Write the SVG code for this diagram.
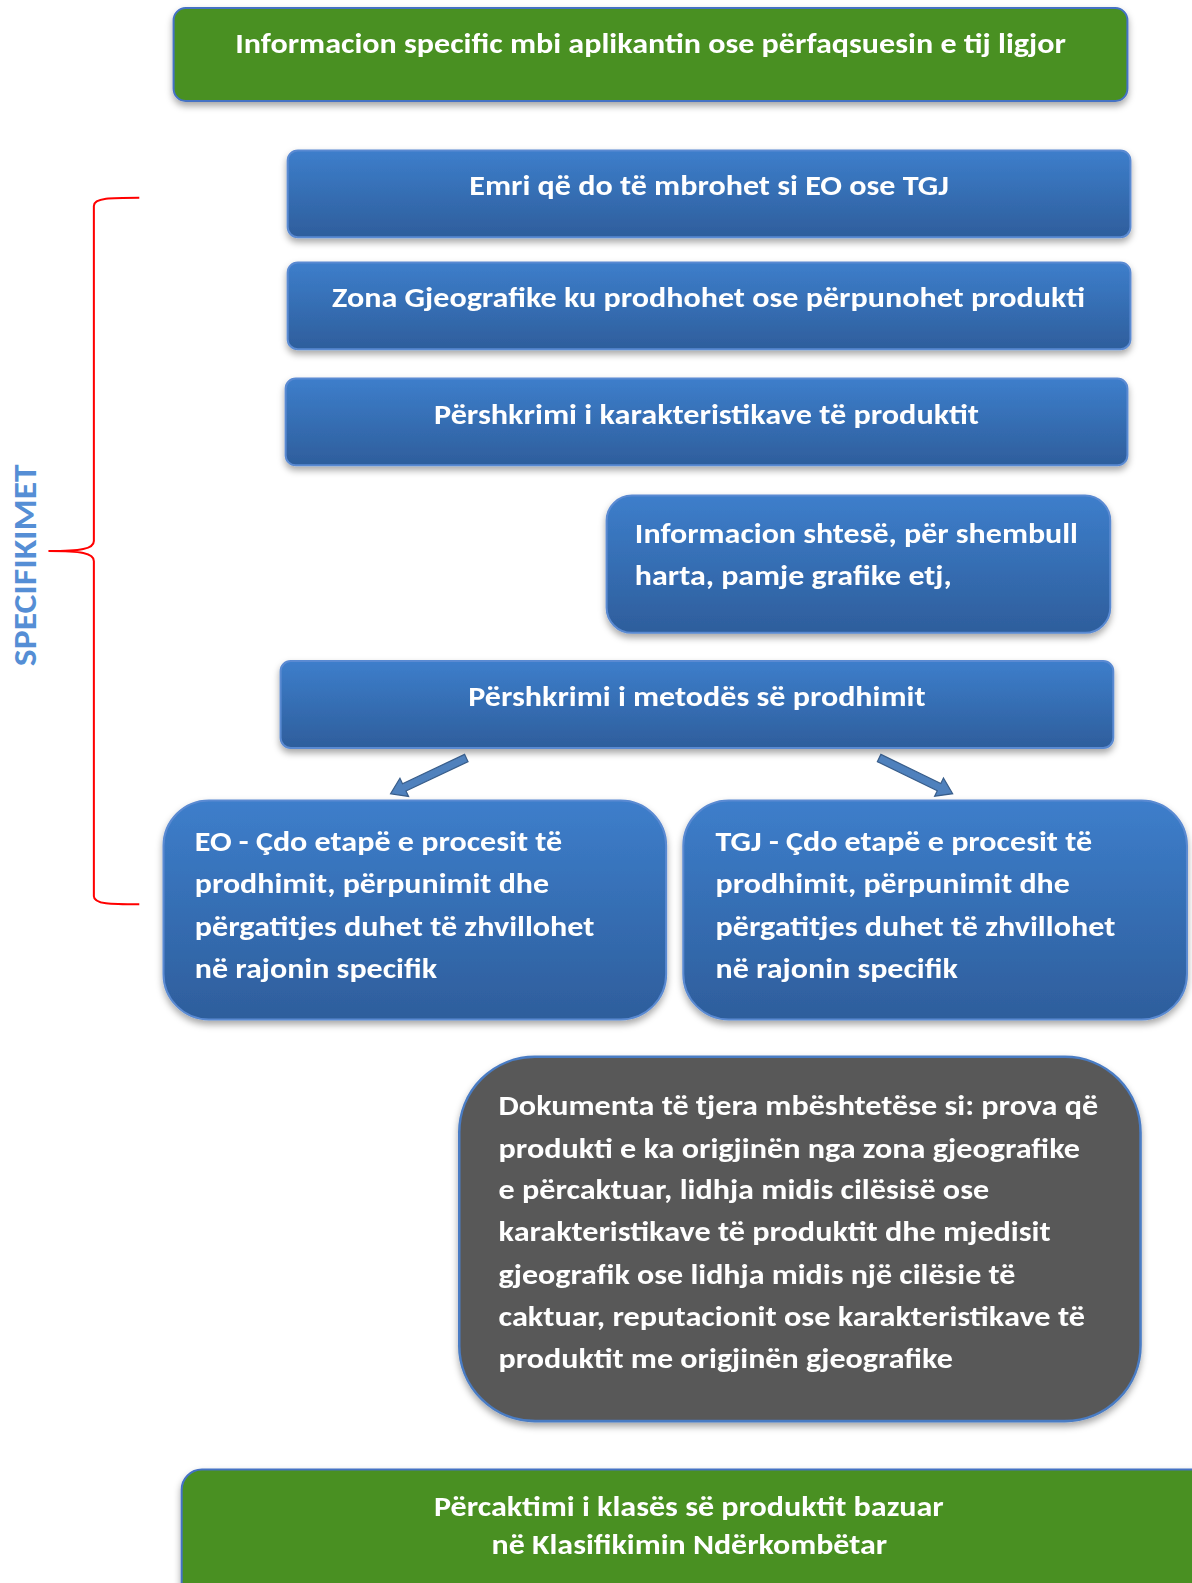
<svg xmlns="http://www.w3.org/2000/svg" width="1192" height="1583" viewBox="0 0 1192 1583">
<style>
.t{font-family:Carlito,Lato,"Liberation Sans",sans-serif;font-weight:bold;font-size:27px;fill:#ffffff}
.blue{fill:url(#bg);stroke:#5a8ad2;stroke-width:2}
.green{fill:#4a9021;stroke:#4472c4;stroke-width:2}
.grey{fill:#595959;stroke:#4a7cc4;stroke-width:2.5}
.arr{fill:#4f81bd;stroke:#385d8a;stroke-width:1.2}
</style>
<defs>
<linearGradient id="bg" x1="0" y1="0" x2="0" y2="1">
<stop offset="0" stop-color="#3d7ecb"/>
<stop offset="1" stop-color="#2e5e9c"/>
</linearGradient>
<filter id="sh" x="-5%" y="-10%" width="110%" height="130%">
<feDropShadow dx="0" dy="4" stdDeviation="3.5" flood-color="#000" flood-opacity="0.35"/>
</filter>
</defs>
<rect width="1192" height="1583" fill="#ffffff"/>
<g transform="scale(1.00932)">
<g id="n-top" filter="url(#sh)">
<rect class="green" x="172" y="8" width="945" height="92" rx="12"/>
<text class="t" x="644.5" y="53" text-anchor="middle" textLength="823" lengthAdjust="spacingAndGlyphs">Informacion specific mbi aplikantin ose përfaqsuesin e tij ligjor</text>
</g>
<g id="n-emri" filter="url(#sh)">
<rect class="blue" x="285" y="149" width="835" height="86" rx="10"/>
<text class="t" x="702.5" y="193" text-anchor="middle" textLength="475" lengthAdjust="spacingAndGlyphs">Emri që do të mbrohet si EO ose TGJ</text>
</g>
<g id="n-zona" filter="url(#sh)">
<rect class="blue" x="285" y="260" width="835" height="86" rx="10"/>
<text class="t" x="702" y="304" text-anchor="middle" textLength="746" lengthAdjust="spacingAndGlyphs">Zona Gjeografike ku prodhohet ose përpunohet produkti</text>
</g>
<g id="n-pershkrimi" filter="url(#sh)">
<rect class="blue" x="283" y="375" width="834" height="86" rx="10"/>
<text class="t" x="700" y="420" text-anchor="middle" textLength="540" lengthAdjust="spacingAndGlyphs">Përshkrimi i karakteristikave të produktit</text>
</g>
<g id="n-info" filter="url(#sh)">
<rect class="blue" x="601" y="491" width="499" height="136" rx="25"/>
<text class="t" x="629" y="538" textLength="439" lengthAdjust="spacingAndGlyphs">Informacion shtesë, për shembull</text>
<text class="t" x="629" y="580" textLength="314" lengthAdjust="spacingAndGlyphs">harta, pamje grafike etj,</text>
</g>
<g id="n-metoda" filter="url(#sh)">
<rect class="blue" x="278" y="655" width="825" height="86" rx="10"/>
<text class="t" x="690.5" y="699" text-anchor="middle" textLength="453" lengthAdjust="spacingAndGlyphs">Përshkrimi i metodës së prodhimit</text>
</g>
<g id="n-eo" filter="url(#sh)">
<rect class="blue" x="162" y="793" width="498" height="217" rx="45"/>
<text class="t" x="193" y="843" textLength="364" lengthAdjust="spacingAndGlyphs">EO - Çdo etapë e procesit të</text>
<text class="t" x="193" y="885" textLength="351" lengthAdjust="spacingAndGlyphs">prodhimit, përpunimit dhe</text>
<text class="t" x="193" y="927" textLength="396" lengthAdjust="spacingAndGlyphs">përgatitjes duhet të zhvillohet</text>
<text class="t" x="193" y="969" textLength="240" lengthAdjust="spacingAndGlyphs">në rajonin specifik</text>
</g>
<g id="n-tgj" filter="url(#sh)">
<rect class="blue" x="677" y="793" width="499" height="217" rx="45"/>
<text class="t" x="709" y="843" textLength="373" lengthAdjust="spacingAndGlyphs">TGJ - Çdo etapë e procesit të</text>
<text class="t" x="709" y="885" textLength="351" lengthAdjust="spacingAndGlyphs">prodhimit, përpunimit dhe</text>
<text class="t" x="709" y="927" textLength="396" lengthAdjust="spacingAndGlyphs">përgatitjes duhet të zhvillohet</text>
<text class="t" x="709" y="969" textLength="240" lengthAdjust="spacingAndGlyphs">në rajonin specifik</text>
</g>
<g id="n-dokumenta" filter="url(#sh)">
<rect class="grey" x="455" y="1047" width="675" height="361" rx="75"/>
<text class="t" x="494" y="1105" textLength="594" lengthAdjust="spacingAndGlyphs">Dokumenta të tjera mbështetëse si: prova që</text>
<text class="t" x="494" y="1147" textLength="576" lengthAdjust="spacingAndGlyphs">produkti e ka origjinën nga zona gjeografike</text>
<text class="t" x="494" y="1188" textLength="486" lengthAdjust="spacingAndGlyphs">e përcaktuar, lidhja midis cilësisë ose</text>
<text class="t" x="494" y="1230" textLength="547" lengthAdjust="spacingAndGlyphs">karakteristikave të produktit dhe mjedisit</text>
<text class="t" x="494" y="1272" textLength="512" lengthAdjust="spacingAndGlyphs">gjeografik ose lidhja midis një cilësie të</text>
<text class="t" x="494" y="1314" textLength="581" lengthAdjust="spacingAndGlyphs">caktuar, reputacionit ose karakteristikave të</text>
<text class="t" x="494" y="1355" textLength="450" lengthAdjust="spacingAndGlyphs">produktit me origjinën gjeografike</text>
</g>
<g id="n-klasa" filter="url(#sh)">
<rect class="green" x="180" y="1456" width="1030" height="160" rx="20"/>
<text class="t" x="682.5" y="1502" text-anchor="middle" textLength="505" lengthAdjust="spacingAndGlyphs">Përcaktimi i klasës së produktit bazuar</text>
<text class="t" x="683" y="1540" text-anchor="middle" textLength="392" lengthAdjust="spacingAndGlyphs">në Klasifikimin Ndërkombëtar</text>
</g>
<g id="specifikimet">
<path d="M138,196 C110,196 93,196 93,204 L93,536 C93,544 80,546 48,546 C80,546 93,548 93,556 L93,888 C93,896 110,896 138,896" fill="none" stroke="#ff0000" stroke-width="2"/>
<text transform="translate(36,560) rotate(-90)" text-anchor="middle" textLength="200" lengthAdjust="spacingAndGlyphs" style="font-family:Carlito,Lato,'Liberation Sans',sans-serif;font-weight:bold;font-size:32px;fill:#558ed5">SPECIFIKIMET</text>
</g>
<g id="connectors">
<polygon class="arr" transform="translate(462,751) rotate(154.7)" points="0,-4 68,-4 68,-10 83,0 68,10 68,4 0,4"/>
<polygon class="arr" transform="translate(871,751) rotate(25.9)" points="0,-4 66,-4 66,-10 81,0 66,10 66,4 0,4"/>
</g>
</g>
</svg>
